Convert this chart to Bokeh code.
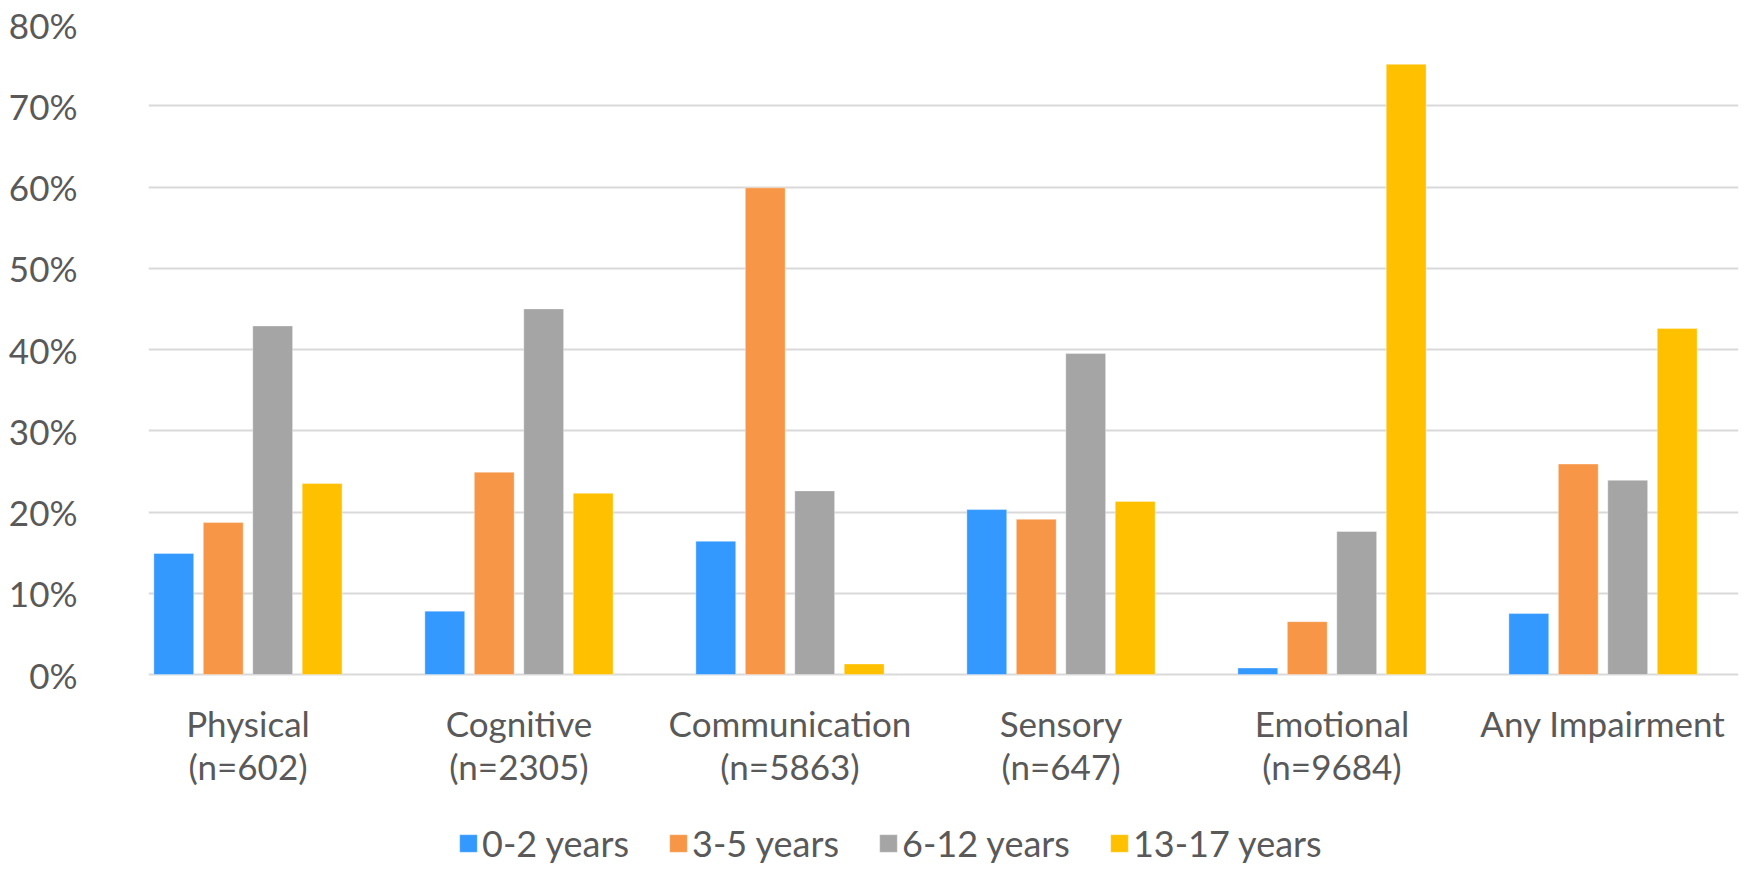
from bokeh.plotting import figure
from bokeh.models import (ColumnDataSource, Range1d, FixedTicker,
                          PrintfTickFormatter, Legend, LegendItem)
from bokeh.core.properties import value
from bokeh.transform import dodge
from bokeh.embed import file_html
from bokeh.resources import INLINE

# Share of children in each age group, by impairment type (percent)
categories = ["Physical\n(n=602)", "Cognitive\n(n=2305)", "Communication\n(n=5863)",
              "Sensory\n(n=647)", "Emotional\n(n=9684)", "Any Impairment"]
age_groups = ["0-2 years", "3-5 years", "6-12 years", "13-17 years"]
age_0_2 = [14.9, 7.8, 16.4, 20.3, 0.8, 7.5]
age_3_5 = [18.7, 24.9, 59.9, 19.1, 6.5, 25.9]
age_6_12 = [42.9, 45.0, 22.6, 39.5, 17.6, 23.9]
age_13_17 = [23.5, 22.3, 1.3, 21.3, 75.1, 42.6]
y_ticks = [0, 10, 20, 30, 40, 50, 60, 70, 80]

colors = ["#3399ff", "#f79646", "#a5a5a5", "#ffc000"]
keys = ["a", "b", "c", "d"]

centers = [i + 0.5 for i in range(len(categories))]
source = ColumnDataSource(dict(x=centers, zero=[0] * len(categories), label=categories,
                               a=age_0_2, b=age_3_5, c=age_6_12, d=age_13_17))

TEXT = "#595959"
FONT = "Lato"

# The frame runs down to the bottom edge so the category labels and the legend
# sit inside it, beneath the 0% baseline.
p = figure(width=1744, height=869, output_backend="svg", toolbar_location=None,
           x_range=Range1d(0.133, 6.0), y_range=Range1d(-24, 80),
           x_axis_location=None,
           min_border_left=148, min_border_right=6, min_border_top=24,
           min_border_bottom=0)
p.outline_line_color = None
p.background_fill_color = "white"
p.border_fill_color = "white"

bar_width = 0.147
step = 0.1825
offsets = [-1.5 * step, -0.5 * step, 0.5 * step, 1.5 * step]

renderers = []
for key, col, off in zip(keys, colors, offsets):
    r = p.vbar(x=dodge("x", off), top=key, bottom=0, width=bar_width, source=source,
               fill_color=col, line_color="white", line_alpha=0.35, line_width=1)
    renderers.append(r)

# grid: 0% .. 80% only
p.xgrid.grid_line_color = None
p.ygrid.grid_line_color = "#d9d9d9"
p.ygrid.grid_line_width = 2
p.ygrid.ticker = FixedTicker(ticks=y_ticks)
p.ygrid.level = "underlay"

# y axis
p.yaxis.ticker = FixedTicker(ticks=y_ticks)
p.yaxis.formatter = PrintfTickFormatter(format="%d%%")
p.yaxis.axis_line_color = None
p.yaxis.major_tick_line_color = None
p.yaxis.minor_tick_line_color = None
p.yaxis.major_label_standoff = 65
p.yaxis.major_label_text_font = FONT
p.yaxis.major_label_text_font_size = "35px"
p.yaxis.major_label_text_color = TEXT

# category labels under the baseline
p.text(x="x", y="zero", text="label", source=source, y_offset=27,
       text_align="center", text_baseline="top", text_line_height=1.04,
       text_font=value(FONT), text_font_size="35px", text_color=TEXT)

legend = Legend(items=[LegendItem(label=g, renderers=[r]) for g, r in zip(age_groups, renderers)],
                orientation="horizontal", location=(309, 4),
                glyph_width=22, glyph_height=22, label_standoff=3, spacing=38,
                padding=0, margin=0, border_line_alpha=0, background_fill_alpha=0,
                label_text_font=FONT, label_text_font_size="36px", label_text_color=TEXT)
p.add_layout(legend, "center")

open("out.html", "w").write(file_html(p, INLINE))
